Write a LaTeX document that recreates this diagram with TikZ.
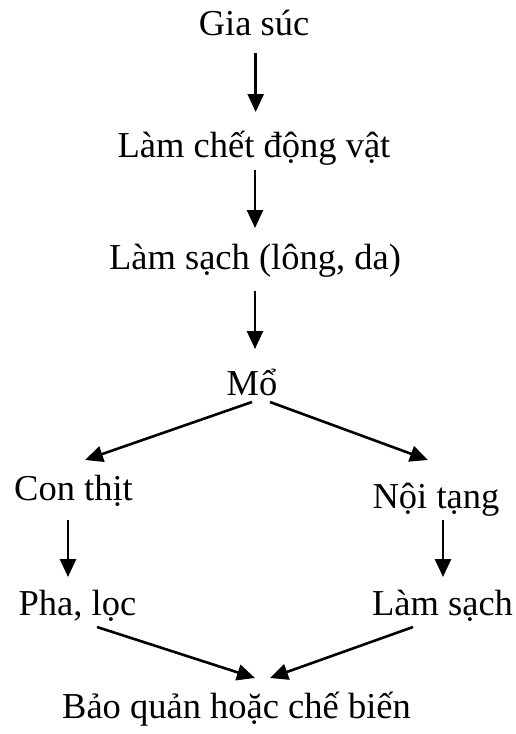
\documentclass[tikz,border=0pt]{standalone}
\usepackage{fontspec}
\setmainfont{Liberation Serif}
\usetikzlibrary{arrows.meta}
\tikzset{
  step label/.style={anchor=base, inner sep=0pt, font=\fontsize{36.5}{44}\selectfont},
  flow/.style={-{Triangle[length=18pt,width=16pt]}, line width=2.6pt}
}
\begin{document}
\begin{tikzpicture}[x=1pt,y=-1pt]
  \useasboundingbox (0,0) rectangle (516,734);
  % steps
  \node[step label] (gia)   at (254,35)    {Gia súc};
  \node[step label] (chet)  at (254,157)   {Làm chết động vật};
  \node[step label] (sach)  at (255,269)   {Làm sạch (lông, da)};
  \node[step label] (mo)    at (252,395)   {Mổ};
  \node[step label] (thit)  at (73.5,500)  {Con thịt};
  \node[step label] (tang)  at (436,508)   {Nội tạng};
  \node[step label] (loc)   at (77.5,615)  {Pha, lọc};
  \node[step label] (lamsach) at (442.5,615) {Làm sạch};
  \node[step label] (bao)   at (236.5,718) {Bảo quản hoặc chế biến};
  % arrows
  \draw[flow] ([shift={(1.7,18)}]gia.base) -- ([shift={(1.7,-45)}]chet.base);
  \draw[flow] ([shift={(1,13)}]chet.base) -- ([shift={(0,-41)}]sach.base);
  \draw[flow] ([shift={(0,22)}]sach.base) -- ([shift={(3,-46)}]mo.base);
  \draw[flow] ([shift={(0,7)}]mo.base) -- ([shift={(11.5,-40)}]thit.base);
  \draw[flow] ([shift={(18,7)}]mo.base) -- ([shift={(-8,-48)}]tang.base);
  \draw[flow] ([shift={(-5.5,20)}]thit.base) -- ([shift={(-9.5,-38)}]loc.base);
  \draw[flow] ([shift={(7,12)}]tang.base) -- ([shift={(0.5,-38)}]lamsach.base);
  \draw[flow] ([shift={(19.5,12)}]loc.base) -- ([shift={(18.5,-40)}]bao.base);
  \draw[flow] ([shift={(-29.5,12)}]lamsach.base) -- ([shift={(33.5,-40)}]bao.base);
\end{tikzpicture}
\end{document}
